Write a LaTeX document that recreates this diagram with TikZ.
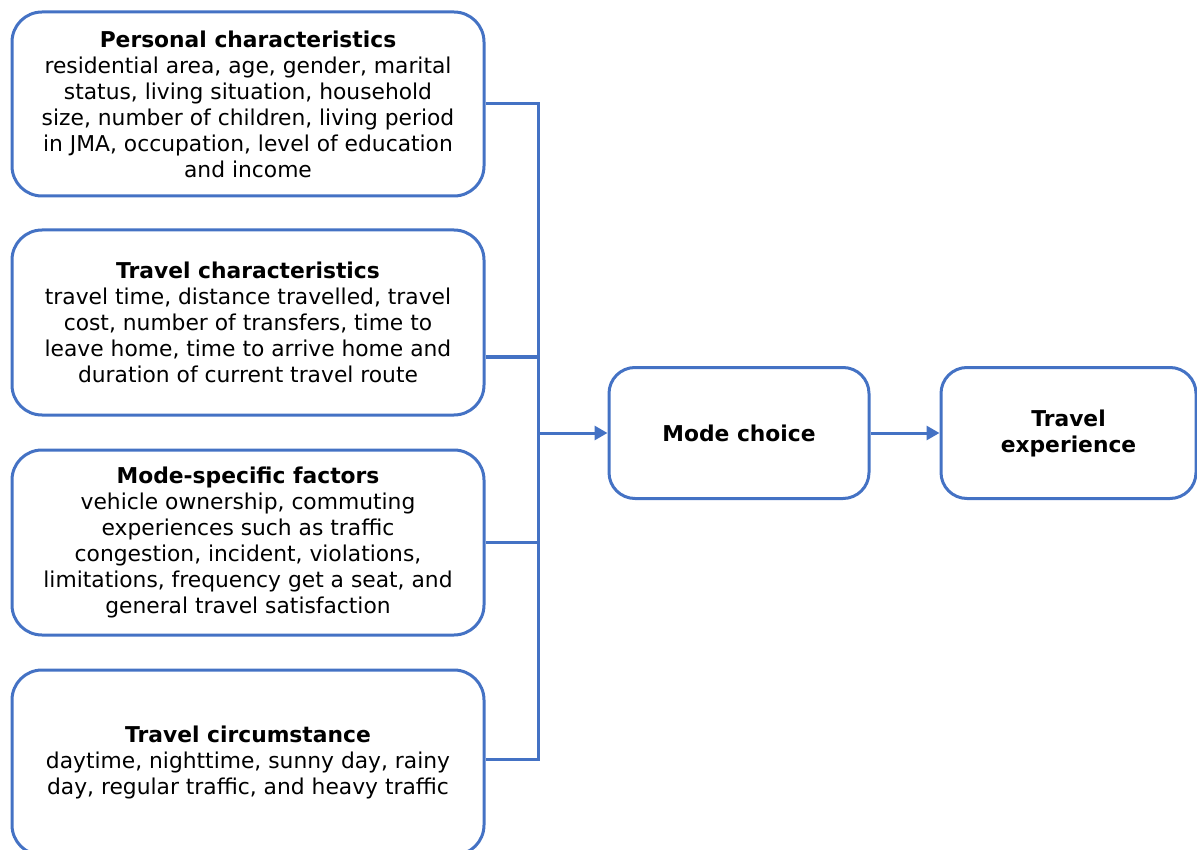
\documentclass[tikz,border=0pt]{standalone}
\usepackage{fontspec}
\setmainfont{DejaVu Sans}
\usetikzlibrary{arrows.meta,calc}
\definecolor{obl}{HTML}{4472C4}
\begin{document}
\begin{tikzpicture}[x=1pt,y=-1pt,
  box/.style={draw=obl, line width=3pt, rounded corners=30pt, align=center,
    font=\fontsize{21.8}{26}\selectfont, inner sep=0pt, text=black},
  leftbox/.style={box, minimum width=472pt},
  conn/.style={draw=obl, line width=3pt},
  arr/.style={conn, -{Triangle[length=13pt,width=14pt]}}]
\useasboundingbox (0,0) rectangle (1197,850);
\node[leftbox, minimum height=184pt] (b1) at (248,104)
  {\textbf{Personal characteristics}\\residential area, age, gender, marital\\status, living situation, household\\size, number of children, living period\\in JMA, occupation, level of education\\and income};
\node[leftbox, minimum height=185pt] (b2) at (248,322.5)
  {\textbf{Travel characteristics}\\travel time, distance travelled, travel\\cost, number of transfers, time to\\leave home, time to arrive home and\\duration of current travel route};
\node[leftbox, minimum height=185pt] (b3) at (248,542.5)
  {\textbf{Mode-specific factors}\\vehicle ownership, commuting\\experiences such as traffic\\congestion, incident, violations,\\limitations, frequency get a seat, and\\general travel satisfaction};
\node[leftbox, minimum height=185pt] (b4) at (248,762.5)
  {\textbf{Travel circumstance}\\daytime, nighttime, sunny day, rainy\\day, regular traffic, and heavy traffic};
\node[box, rounded corners=26pt, minimum width=260pt, minimum height=131pt, font=\fontsize{21.8}{26}\selectfont\bfseries] (mc) at (739,433) {Mode choice};
\node[box, rounded corners=26pt, minimum width=255pt, minimum height=131pt, font=\fontsize{21.8}{26}\selectfont\bfseries] (te) at (1068.5,433) {Travel\\experience};
\coordinate (bt) at (538,104);
\coordinate (bb) at (538,759);
\coordinate (bm) at (538,433);
\coordinate (b2c) at ([yshift=-34.5pt]b2.east);
\coordinate (b4c) at ([yshift=3.5pt]b4.east);
\draw[conn] (b1.east) -- (bt) -- (bb) -- (b4c);
\draw[conn] (b2c) -- (bt |- b2c);
\draw[conn] (b3.east) -- (bt |- b3.east);
\draw[arr] (bm) -- (mc.west);
\draw[arr] (mc.east) -- (te.west);
\end{tikzpicture}
\end{document}
